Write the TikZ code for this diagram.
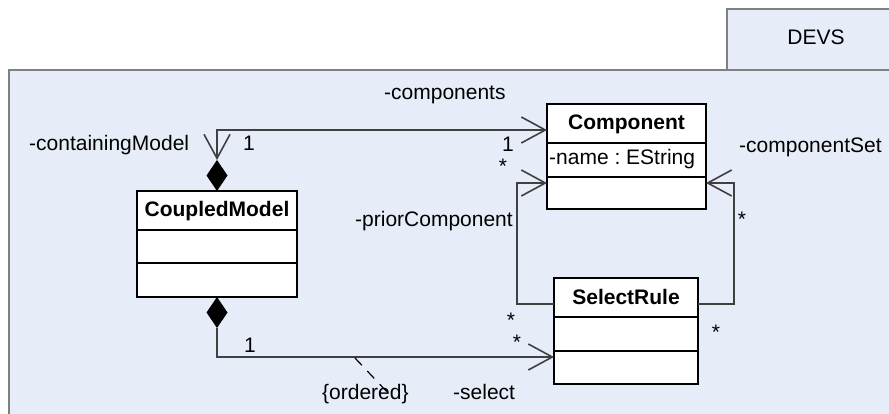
\documentclass[tikz,border=0pt]{standalone}
\usepackage{fontspec}
\setmainfont{Liberation Sans}
\frenchspacing
\usetikzlibrary{arrows.meta, positioning, shapes.geometric}
\definecolor{pkgFill}{RGB}{231,237,248}
\definecolor{pkgLine}{gray}{0.5}
\definecolor{wireGray}{gray}{0.25}

\tikzset{
  barb/.tip={Straight Barb[length=24pt,width=26pt,line width=1.6pt]},
  umlclass/.style={draw, fill=white, line width=1.8pt, inner sep=0pt, outer sep=0pt, anchor=north west},
  umltitle/.style={font=\fontsize{21}{25}\selectfont\bfseries, anchor=base, inner sep=0pt},
  lbl/.style={inner sep=0pt, anchor=base west},
  mult/.style={inner sep=0pt, anchor=base},
  assoc/.style={draw=wireGray, line width=1.2pt},
  compose/.style={diamond, fill=black, inner sep=0pt, outer sep=0pt, minimum width=21pt, minimum height=31pt},
}

\begin{document}
\begin{tikzpicture}[x=1pt, y=-1pt, font=\fontsize{21}{25}\selectfont]
  \useasboundingbox (0,0) rectangle (889,414);

  % package DEVS
  \draw[pkgLine, fill=pkgFill, line width=1.5pt] (727,9) rectangle (900,70);
  \node[mult] (devs) at (816,45) {DEVS};
  \draw[pkgLine, fill=pkgFill, line width=2pt] (9,70) rectangle (900,430);

  % classes
  \node[umlclass, minimum width=160pt, minimum height=106pt] (cm) at (137,191) {};
  \node[umltitle] (cmname) at ([yshift=-26pt]cm.north) {CoupledModel};
  \draw[line width=1.8pt] ([yshift=-39pt]cm.north west) -- ([yshift=-39pt]cm.north east);
  \draw[line width=1.8pt] ([yshift=-72pt]cm.north west) -- ([yshift=-72pt]cm.north east);

  \node[umlclass, minimum width=159pt, minimum height=105pt] (comp) at (547,104) {};
  \node[umltitle] (compname) at ([yshift=-26pt]comp.north) {Component};
  \node[lbl] (compattr) at ([xshift=2pt, yshift=-61pt]comp.north west) {-name : EString};
  \draw[line width=1.8pt] ([yshift=-39pt]comp.north west) -- ([yshift=-39pt]comp.north east);
  \draw[line width=1.8pt] ([yshift=-73pt]comp.north west) -- ([yshift=-73pt]comp.north east);

  \node[umlclass, minimum width=144pt, minimum height=106pt] (rule) at (554,278) {};
  \node[umltitle] (rulename) at ([yshift=-26pt]rule.north) {SelectRule};
  \draw[line width=1.8pt] ([yshift=-39pt]rule.north west) -- ([yshift=-39pt]rule.north east);
  \draw[line width=1.8pt] ([yshift=-73pt]rule.north west) -- ([yshift=-73pt]rule.north east);

  % composition diamonds
  \node[compose, anchor=south] (dtop) at (cm.north) {};
  \node[compose, anchor=north] (dbot) at (cm.south) {};

  % associations
  \draw[assoc, barb-barb] (dtop.north) |- ([yshift=-26pt]comp.north west);
  \draw[assoc, -barb] (dbot.south) |- ([yshift=-79pt]rule.north west);
  \draw[assoc, -barb] ([yshift=-26pt]rule.north west) -- ++(-37,0) |- ([yshift=-79pt]comp.north west);
  \draw[assoc, -barb] ([yshift=-26pt]rule.north east) -- ++(36,0) |- ([yshift=-79pt]comp.north east);

  % role names and multiplicities
  \node[lbl] (lcont) at (29,151) {-containingModel};
  \node[lbl] (lone1) at (243,151) {1};
  \node[lbl] (lcomps) at (384,100) {-components};
  \node[mult] (lone2) at (508,152) {1};
  \node[mult] (lstar1) at (503,174) {*};
  \node[lbl] (lprior) at (355,226) {-priorComponent};
  \node[lbl] (lset) at (739,153) {-componentSet};
  \node[mult] (lstar2) at (742,227) {*};
  \node[mult] (lstar3) at (511,327) {*};
  \node[mult] (lstar4) at (517,349) {*};
  \node[mult] (lstar5) at (716,339) {*};
  \node[lbl] (lone3) at (244,352) {1};
  \node[lbl] (lord) at (322,399) {\{ordered\}};
  \node[lbl] (lsel) at (453,399) {-select};

  % constraint note
  \coordinate (ordfrom) at (355,358);
  \coordinate (ordto) at (388,393);
  \draw[black, line width=1.2pt, dash pattern=on 10pt off 8pt] (ordfrom) -- (ordto);
\end{tikzpicture}
\end{document}
